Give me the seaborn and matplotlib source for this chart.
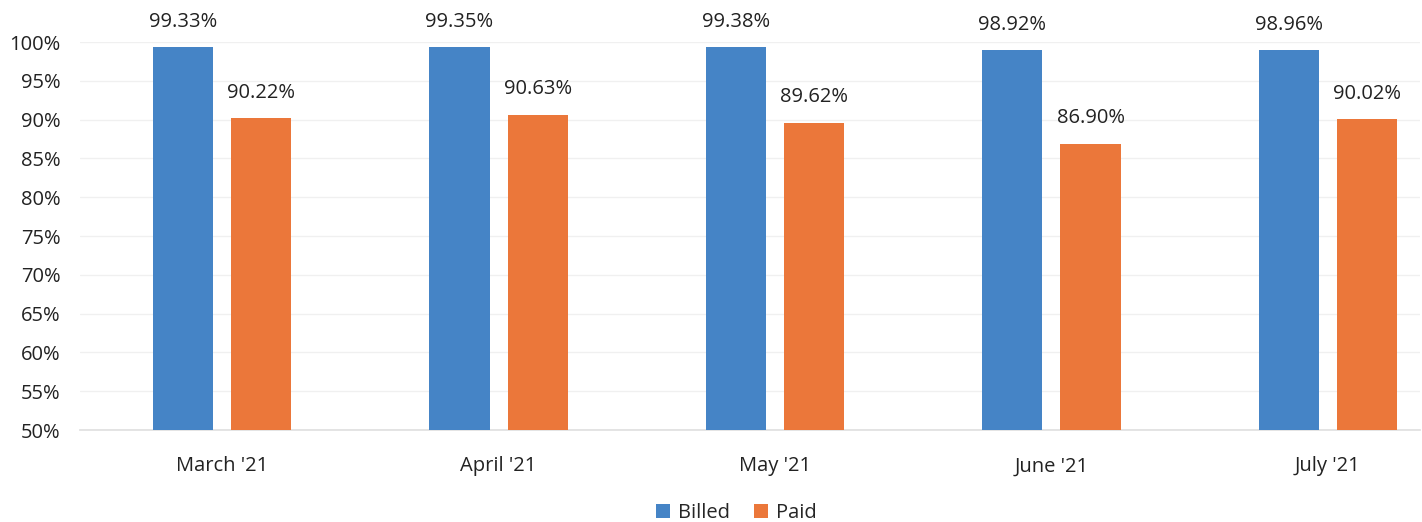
import pandas as pd
import seaborn as sns
import matplotlib.pyplot as plt

# Datos
meses = ["March '21", "April '21", "May '21", "June '21", "July '21"]
billed = [99.33, 99.35, 99.38, 98.92, 98.96]
paid = [90.22, 90.63, 89.62, 86.90, 90.02]
series = ["Billed", "Paid"]
colores = ["#4584C6", "#EB773A"]


def main():
    df = pd.DataFrame({
        "mes": meses * 2,
        "valor": billed + paid,
        "serie": [series[0]] * len(meses) + [series[1]] * len(meses),
    })

    sns.set_theme(style="white")
    plt.rcParams['font.family'] = ['Open Sans', 'DejaVu Sans']

    fig = plt.figure(figsize=(14.22, 5.22), dpi=100)
    ax = fig.add_axes([80 / 1422, 92 / 522, 1340 / 1422, 388 / 522])

    sns.barplot(data=df, x="mes", y="valor", hue="serie", palette=colores,
                saturation=1, linewidth=0, width=0.565, gap=0.23, ax=ax, zorder=3)

    ax.set_ylim(50, 100)
    ax.set_xlim(-0.514, 4.333)
    ax.set_yticks(range(50, 101, 5))
    ax.set_yticklabels([f"{v}%" for v in range(50, 101, 5)], fontsize=14.5, color="#222222")
    ax.tick_params(axis="x", labelsize=14.5, colors="#222222", pad=13)
    ax.tick_params(axis="y", pad=14, length=0)
    ax.grid(axis="y", color="#f0f0f0", linewidth=1, zorder=0)
    ax.set_xlabel("")
    ax.set_ylabel("")
    for lado in ["top", "right", "left"]:
        ax.spines[lado].set_visible(False)
    ax.spines["bottom"].set_color("#e0e0e0")

    # Etiquetas encima de cada barra
    for contenedor in ax.containers:
        ax.bar_label(contenedor, fmt="%.2f%%", padding=11, fontsize=14.5,
                     color="#222222", clip_on=False)

    ax.legend(handles=ax.get_legend_handles_labels()[0], labels=series,
              loc="center", bbox_to_anchor=(0.49, -0.215), ncol=2, frameon=False,
              fontsize=14.5, handlelength=0.7, handleheight=0.7,
              handletextpad=0.4, columnspacing=1.2)

    plt.savefig("out.png", dpi=100)
    plt.close()


if __name__ == '__main__':
    main()
